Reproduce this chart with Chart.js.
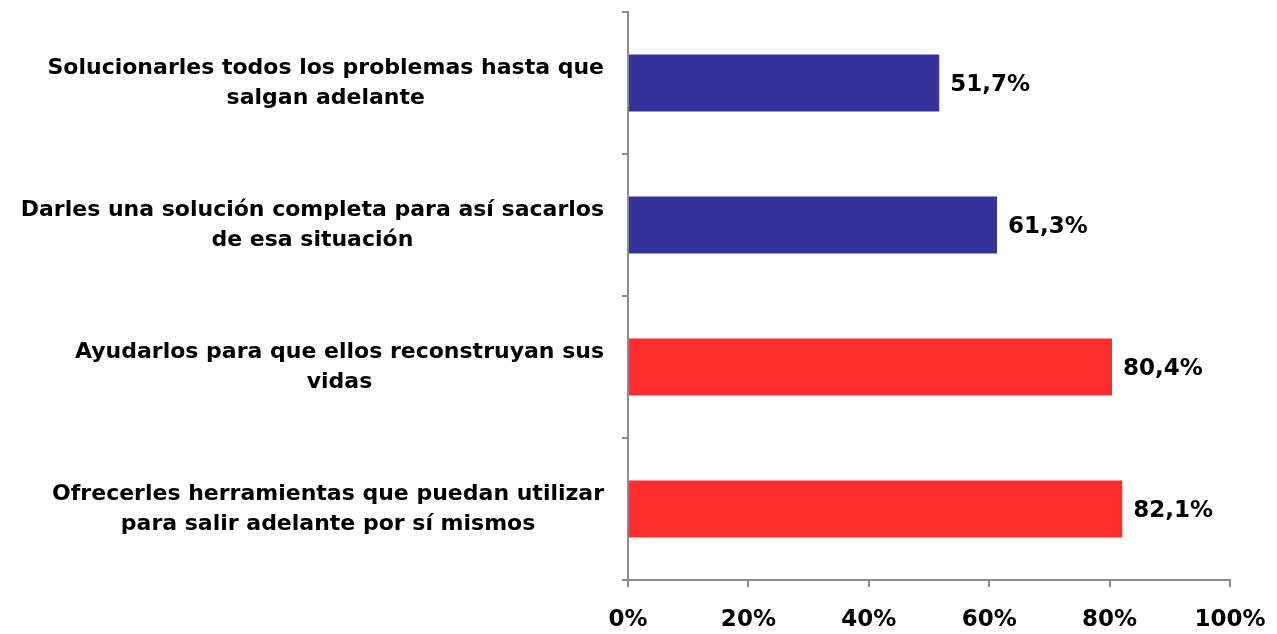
<!DOCTYPE html>
<html>
<head>
<meta charset="utf-8">
<script src="https://cdn.jsdelivr.net/npm/chart.js@4"></script>
<style>
  html, body { margin: 0; padding: 0; background: #fff; }
  #wrap { width: 1277px; height: 634px; }
</style>
</head>
<body>
<div id="wrap"><canvas id="chart"></canvas></div>
<script>
const categories = [
  ['Solucionarles todos los problemas hasta que', 'salgan adelante'],
  ['Darles una solución completa para así sacarlos', 'de esa situación'],
  ['Ayudarlos para que ellos reconstruyan sus', 'vidas'],
  ['Ofrecerles herramientas que puedan utilizar', 'para salir adelante por sí mismos']
]
const values = [51.7, 61.3, 80.4, 82.1]
const barColors = ['#333399', '#333399', '#FF2D2D', '#FF2D2D']
const xTicks = [0, 20, 40, 60, 80, 100]

const FONT = 'DejaVu Sans'
const axisGray = '#8c8c8c'

const pct = (v) => v.toFixed(1).replace('.', ',') + '%'

// category labels: block right-aligned, lines centered inside the block
const categoryLabels = {
  id: 'categoryLabels',
  afterDraw(chart) {
    const ctx = chart.ctx
    const y = chart.scales.y
    ctx.save()
    ctx.font = `bold 22px "${FONT}"`
    ctx.fillStyle = '#000'
    ctx.textAlign = 'center'
    ctx.textBaseline = 'middle'
    const right = y.right - 24
    const lineH = 30
    categories.forEach((lines, i) => {
      const cy = y.getPixelForTick(i)
      const widest = Math.max(...lines.map((l) => ctx.measureText(l).width))
      const cx = right - widest / 2
      lines.forEach((l, j) => {
        ctx.fillText(l, cx, cy + (j - (lines.length - 1) / 2) * lineH)
      })
    })
    ctx.restore()
  }
}

const valueLabels = {
  id: 'valueLabels',
  afterDatasetsDraw(chart) {
    const ctx = chart.ctx
    const meta = chart.getDatasetMeta(0)
    ctx.save()
    ctx.font = `bold 23px "${FONT}"`
    ctx.fillStyle = '#000'
    ctx.textAlign = 'left'
    ctx.textBaseline = 'middle'
    meta.data.forEach((bar, i) => {
      ctx.fillText(pct(values[i]), bar.x + 11, bar.y + 2)
    })
    ctx.restore()
  }
}

new Chart(document.getElementById('chart'), {
  type: 'bar',
  data: {
    labels: categories,
    datasets: [
      {
        data: values,
        backgroundColor: barColors,
        borderWidth: 0,
        barPercentage: 0.4,
        categoryPercentage: 1
      }
    ]
  },
  options: {
    indexAxis: 'y',
    responsive: true,
    maintainAspectRatio: false,
    animation: false,
    layout: { padding: { top: 12, right: 47, left: 0, bottom: 0 } },
    plugins: {
      legend: { display: false },
      tooltip: { enabled: false }
    },
    scales: {
      x: {
        min: 0,
        max: 100,
        afterBuildTicks: (scale) => { scale.ticks = xTicks.map((v) => ({ value: v })) },
        afterFit: (scale) => {
          scale.height = 54
          scale.paddingLeft = 0
          scale.paddingRight = 0
        },
        ticks: {
          callback: (v) => v + '%',
          color: '#000',
          padding: 19,
          maxRotation: 0,
          font: { family: FONT, size: 23, weight: 'bold' }
        },
        grid: { drawOnChartArea: false, drawTicks: true, tickLength: 7, color: axisGray, lineWidth: 2 },
        border: { color: axisGray, width: 2 }
      },
      y: {
        afterFit: (scale) => { scale.width = 628 },
        ticks: { display: false },
        grid: { drawOnChartArea: false, drawTicks: true, tickLength: 6, color: axisGray, lineWidth: 2, offset: true },
        border: { color: axisGray, width: 2 }
      }
    }
  },
  plugins: [categoryLabels, valueLabels]
})
</script>
</body>
</html>
